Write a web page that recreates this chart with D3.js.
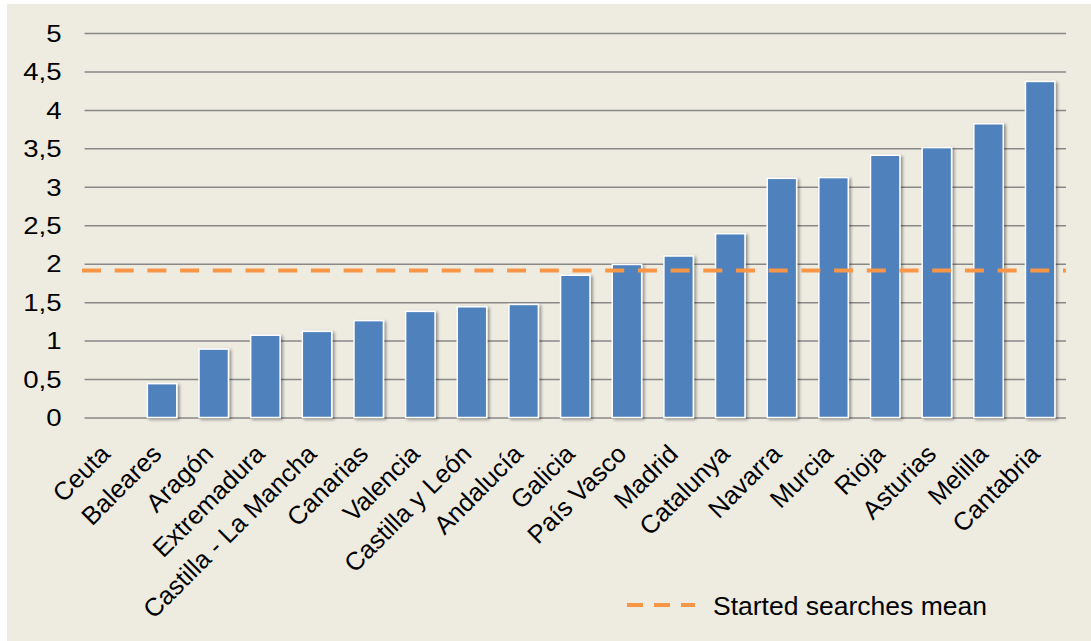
<!DOCTYPE html>
<html>
<head>
<meta charset="utf-8">
<script src="https://cdn.jsdelivr.net/npm/d3@7"></script>
<style>
  body { margin: 0; background: #fff; }
  svg { display: block; font-family: "Liberation Sans", Arial, sans-serif; }
</style>
</head>
<body>
<svg id="chart" width="1091" height="641"></svg>
<script>
// regions, sorted by value
var regions = ["Ceuta", "Baleares", "Aragón", "Extremadura", "Castilla - La Mancha",
  "Canarias", "Valencia", "Castilla y León", "Andalucía", "Galicia", "País Vasco",
  "Madrid", "Catalunya", "Navarra", "Murcia", "Rioja", "Asturias", "Melilla", "Cantabria"];
var values = [0, 0.44, 0.89, 1.07, 1.12, 1.26, 1.38, 1.44, 1.47, 1.85, 1.99,
  2.10, 2.39, 3.11, 3.12, 3.41, 3.51, 3.82, 4.37];
var meanValue = 1.91;
var yTicks = [0, 0.5, 1, 1.5, 2, 2.5, 3, 3.5, 4, 4.5, 5];
var legendLabel = "Started searches mean";

var svg = d3.select("#chart");

var plotLeft = 84.6, plotRight = 1066, plotTop = 33, plotBottom = 417.5;

svg.append("rect")
  .attr("x", 7).attr("y", 4)
  .attr("width", 1091 - 7).attr("height", 641 - 4)
  .attr("fill", "#EEECE1");

var defs = svg.append("defs");
var f = defs.append("filter").attr("id", "shadow")
  .attr("x", "-30%").attr("y", "-10%").attr("width", "160%").attr("height", "130%");
f.append("feDropShadow")
  .attr("dx", 2).attr("dy", 1.5).attr("stdDeviation", 1.8)
  .attr("flood-color", "#000").attr("flood-opacity", 0.4);

var x = d3.scaleBand().domain(regions).range([plotLeft, plotRight]).paddingInner(0.43).paddingOuter(0.215);
var y = d3.scaleLinear().domain([0, 5]).range([plotBottom, plotTop]);

// gridlines + y labels
var yAxis = d3.axisLeft(y)
  .tickValues(yTicks)
  .tickSize(-(plotRight - plotLeft))
  .tickFormat(d => String(d).replace(".", ","));

var gy = svg.append("g")
  .attr("transform", `translate(${plotLeft},0)`)
  .call(yAxis);
gy.select(".domain").remove();
gy.selectAll(".tick line")
  .attr("stroke", "#888")
  .attr("stroke-width", 1.5);
gy.selectAll(".tick text")
  .attr("x", null)
  .attr("dy", "0.36em")
  .attr("transform", "translate(-23,0) scale(1.2,1)")
  .attr("fill", "#000")
  .style("font-size", "23px");

// bars
svg.append("g")
  .selectAll("rect")
  .data(values)
  .join("rect")
    .attr("x", (d, i) => x(regions[i]))
    .attr("y", d => y(d))
    .attr("width", x.bandwidth())
    .attr("height", d => y(0) - y(d))
    .attr("fill", "#4F81BD")
    .attr("stroke", d => d > 0 ? "#fff" : "none")
    .attr("stroke-width", 1.5)
    .attr("filter", "url(#shadow)");

// mean line
svg.append("line")
  .attr("x1", plotLeft - 2.6).attr("x2", plotRight)
  .attr("y1", y(meanValue)).attr("y2", y(meanValue))
  .attr("stroke", "#F79646")
  .attr("stroke-width", 4)
  .attr("stroke-dasharray", "19,13.7");

// x labels
svg.append("g")
  .selectAll("text")
  .data(regions)
  .join("text")
    .attr("transform", d => `translate(${x(d) + x.bandwidth() / 2 + 1},${plotBottom + 38}) rotate(-45)`)
    .attr("text-anchor", "end")
    .style("font-size", "25.5px")
    .attr("fill", "#000")
    .text(d => d);

// legend
var lg = svg.append("g").attr("transform", "translate(627,605)");
lg.append("line")
  .attr("x1", 0).attr("x2", 68)
  .attr("stroke", "#F79646")
  .attr("stroke-width", 4)
  .attr("stroke-dasharray", "16,11");
lg.append("text")
  .attr("x", 86).attr("dy", "0.36em")
  .style("font-size", "26.5px")
  .attr("fill", "#000")
  .text(legendLabel);
</script>
</body>
</html>
